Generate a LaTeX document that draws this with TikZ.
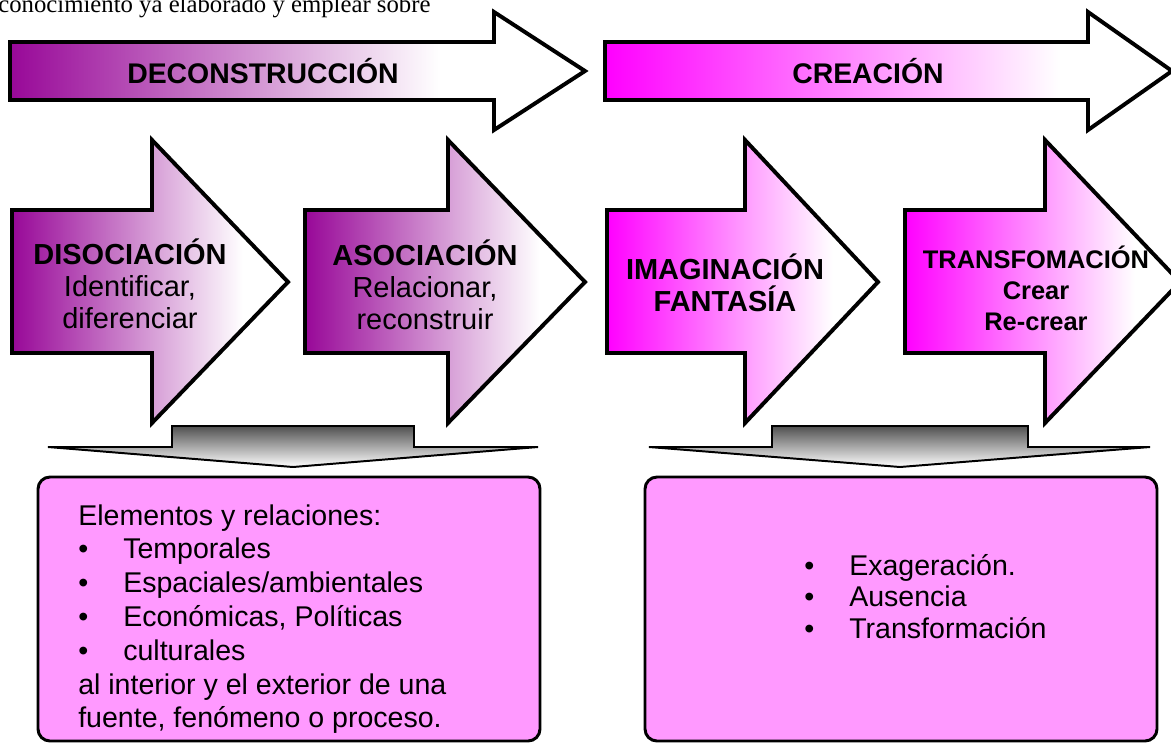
\documentclass[tikz,border=0pt]{standalone}
\usepackage{fontspec}
\setmainfont{Liberation Sans}
\newfontfamily\cutserif{Liberation Serif}

\definecolor{deconpurple}{RGB}{152,8,152}
\definecolor{creamagenta}{RGB}{255,0,255}
\definecolor{boxpink}{RGB}{255,153,255}
\definecolor{stemgray}{RGB}{80,80,80}

% long arrow of the top row: left, neck, tip, colour, end of the fade
\newcommand{\bandarrow}[5]{%
  \def\bandpath{(#1,42) -- (#2,42) -- (#2,12) -- (#3,71) -- (#2,130) -- (#2,100) -- (#1,100) -- cycle}
  \fill[white] \bandpath;
  \begin{scope}
    \clip \bandpath;
    \shade[left color=#4, right color=white] (#1,12) rectangle (#5,130);
  \end{scope}
  \draw[arrowline] \bandpath;
}

% stage arrow of the middle row: left, neck, tip, colour
\newcommand{\stagearrow}[4]{%
  \def\stagepath{(#1,210) -- (#2,210) -- (#2,140) -- (#3,282) -- (#2,423) -- (#2,353) -- (#1,353) -- cycle}
  \fill[white] \stagepath;
  \begin{scope}
    \clip \stagepath;
    \shade[left color=#4, right color=white] (#1,140) rectangle (#3-45,423);
  \end{scope}
  \draw[arrowline] \stagepath;
}

% flat grey arrow: wing left, stem left, tip, stem right, wing right
\newcommand{\gatherarrow}[5]{%
  \shadedraw[gatherline, top color=stemgray, bottom color=white]
    (#1,447) -- (#2,447) -- (#2,426) -- (#4,426) -- (#4,447) -- (#5,447) -- (#3,467) -- cycle;
}

\newcommand{\bul}{\makebox[32pt][l]{\textbullet}}

\begin{document}
\begin{tikzpicture}[x=0.025cm, y=-0.025cm]
    \tikzstyle{arrowline}=[draw=black, line width=2.8pt]
    \tikzstyle{gatherline}=[draw=black, line width=1.4pt]
    \tikzstyle{boxline}=[draw=black, fill=boxpink, line width=2.1pt, rounded corners=0.3cm]
    \tikzstyle{bandtext}=[font=\bfseries\fontsize{20.2}{22}\selectfont, inner sep=0pt]
    \tikzstyle{stagetext}=[font=\bfseries\fontsize{20.6}{22.8}\selectfont, align=center, inner sep=0pt]
    \tikzstyle{listtext}=[anchor=base west, font=\fontsize{20.3}{24}\selectfont, inner sep=0pt]

    \useasboundingbox (0,0) rectangle (1171,744);
    \clip (0,0) rectangle (1171,744);

    % Line of the page cut by the top edge
    \node[anchor=base west, font=\cutserif\fontsize{17.6}{20}\selectfont, inner sep=0pt]
        (cut) at (-2,12) {conocimiento ya elaborado y emplear sobre};

    % Draw the two long arrows
    \bandarrow{10}{494}{585}{deconpurple}{440}
    \bandarrow{605}{1088}{1172}{creamagenta}{1060}
    \node[bandtext] (decon) at (263,71) {DECONSTRUCCIÓN};
    \node[bandtext] (crea) at (868,71) {CREACIÓN};

    % Draw the four stage arrows
    \stagearrow{12}{152}{288}{deconpurple}
    \stagearrow{305}{448}{585}{deconpurple}
    \stagearrow{607}{745}{878}{creamagenta}
    \stagearrow{905}{1045}{1180}{creamagenta}

    \node[stagetext] (dis) at (130,284)
        {DISOCIACIÓN\\{\mdseries Identificar,}\\{\mdseries diferenciar}};
    \node[stagetext] (aso) at (425,285)
        {ASOCIACIÓN\\{\mdseries Relacionar,}\\{\mdseries reconstruir}};
    \node[stagetext] (ima) at (725,283) {IMAGINACIÓN\\FANTASÍA};
    \node[stagetext, font=\bfseries\fontsize{18.1}{22}\selectfont] (tra) at (1036,288)
        {TRANSFOMACIÓN\\Crear\\Re-crear};

    % Grey arrows down to the boxes
    \gatherarrow{48}{172}{293}{414}{538}
    \gatherarrow{649}{772}{900}{1028}{1150}

    % Boxes with the lists
    \draw[boxline] (38,477) rectangle (540,741);
    \draw[boxline] (645,477) rectangle (1157,741);

    \foreach \line [count=\i] in {Elementos y relaciones:, \bul Temporales,
        \bul Espaciales/ambientales, {\bul Económicas, Políticas}, \bul culturales,
        al interior y el exterior de una, {fuente, fenómeno o proceso.}}
        \node[listtext] (elem-\i) at (78,{525+33.8*(\i-1)}) {\line};

    \foreach \line [count=\i] in {Exageración., Ausencia, Transformación}
        \node[listtext] (exa-\i) at (804,{575+31.5*(\i-1)}) {\bul\line};
\end{tikzpicture}
\end{document}
